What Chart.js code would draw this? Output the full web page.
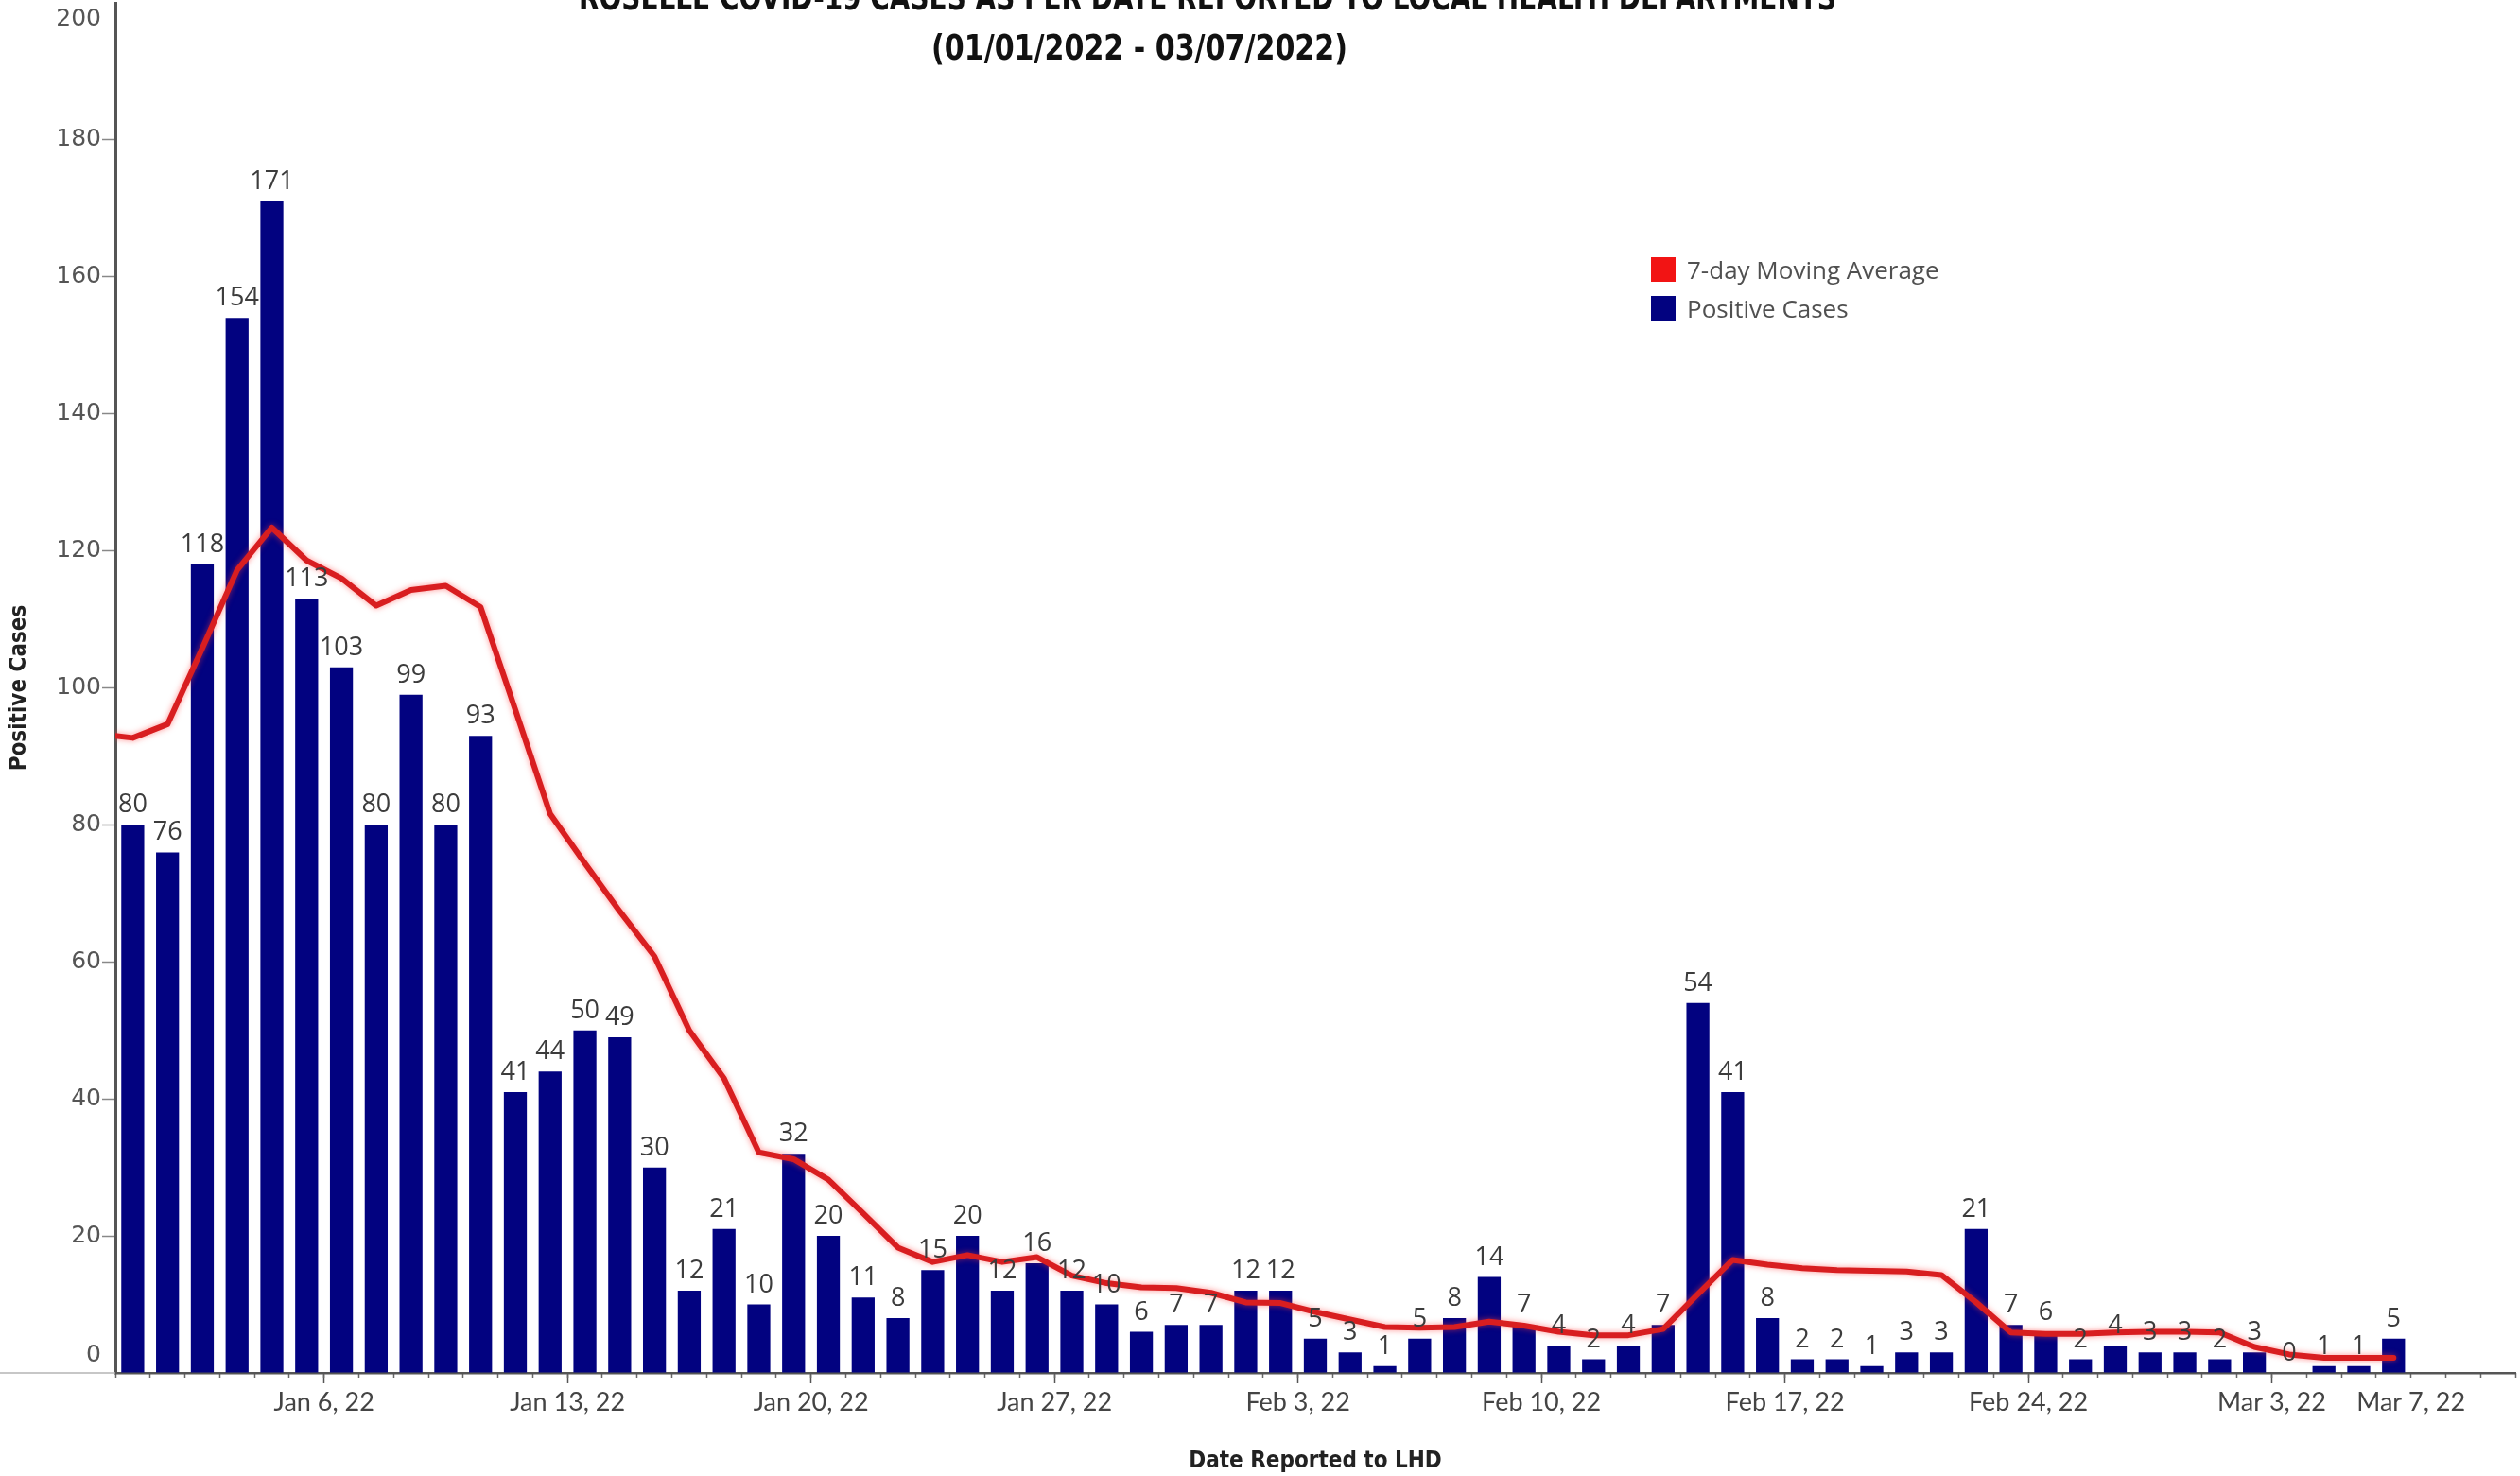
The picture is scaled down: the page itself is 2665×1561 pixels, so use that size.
<!DOCTYPE html>
<html>
<head>
<meta charset="utf-8">
<title>Roselle COVID-19 cases</title>
<script src="https://cdn.jsdelivr.net/npm/chart.js@4.4.1/dist/chart.umd.min.js"></script>
<style>
  html, body { margin: 0; padding: 0; background: #fff; }
  #wrap { position: relative; width: 2665px; height: 1561px; overflow: hidden; }
  #legend { position: absolute; left: 1746px; top: 264px; font-family: 'Open Sans', sans-serif; font-size: 26px; color: #505050; }
  .legend-item { display: flex; align-items: center; height: 41px; }
  .legend-box { width: 26px; height: 26px; margin-right: 12px; }
</style>
</head>
<body>
<div id="wrap">
  <canvas id="chart" width="2665" height="1561"></canvas>
  <div id="legend"></div>
</div>
<script>
// Días del eje (incluye 3 días vacíos al final, como en el original)
const days = [
  'Jan 1','Jan 2','Jan 3','Jan 4','Jan 5','Jan 6','Jan 7','Jan 8','Jan 9','Jan 10',
  'Jan 11','Jan 12','Jan 13','Jan 14','Jan 15','Jan 16','Jan 17','Jan 18','Jan 19','Jan 20',
  'Jan 21','Jan 22','Jan 23','Jan 24','Jan 25','Jan 26','Jan 27','Jan 28','Jan 29','Jan 30',
  'Jan 31','Feb 1','Feb 2','Feb 3','Feb 4','Feb 5','Feb 6','Feb 7','Feb 8','Feb 9',
  'Feb 10','Feb 11','Feb 12','Feb 13','Feb 14','Feb 15','Feb 16','Feb 17','Feb 18','Feb 19',
  'Feb 20','Feb 21','Feb 22','Feb 23','Feb 24','Feb 25','Feb 26','Feb 27','Feb 28','Mar 1',
  'Mar 2','Mar 3','Mar 4','Mar 5','Mar 6','Mar 7','Mar 8','Mar 9','Mar 10'
];

// Casos positivos por día (Jan 1 - Mar 7)
const cases = [
  80, 76, 118, 154, 171, 113, 103, 80, 99, 80, 93,
  41, 44, 50, 49, 30, 12, 21, 10, 32, 20,
  11, 8, 15, 20, 12, 16, 12, 10, 6, 7,
  7, 12, 12, 5, 3, 1, 5, 8, 14, 7,
  4, 2, 4, 7, 54, 41, 8, 2, 2, 1,
  3, 3, 21, 7, 6, 2, 4, 3,
  3, 2, 3, 0, 1, 1, 5
];

// Promedio móvil de 7 días; el primer valor es Dec 31
const movingAvg = [
  93.3,
  92.7, 94.7, 105.8, 117.2, 123.4, 118.6, 116.0, 112.0, 114.3, 114.9, 111.8,
  96.8, 81.6, 74.4, 67.4, 60.8, 50.0, 43.0, 32.2, 31.2, 28.2,
  23.3, 18.3, 16.2, 17.2, 16.2, 16.9, 14.2, 13.1, 12.5, 12.4,
  11.7, 10.3, 10.2, 8.9, 7.8, 6.7, 6.6, 6.7, 7.5, 6.9,
  6.0, 5.5, 5.5, 6.4, 11.5, 16.5, 15.8, 15.3, 15.0, 14.9,
  14.8, 14.3, 10.3, 5.9, 5.7, 5.7, 5.9, 6.0,
  6.0, 5.9, 3.8, 2.7, 2.2, 2.2, 2.2
];

// Etiquetas del eje X y el día tras el cual van
const tickDays = ['Jan 6', 'Jan 13', 'Jan 20', 'Jan 27', 'Feb 3', 'Feb 10', 'Feb 17', 'Feb 24', 'Mar 3', 'Mar 7'];
const tickLabels = ['Jan 6, 22', 'Jan 13, 22', 'Jan 20, 22', 'Jan 27, 22', 'Feb 3, 22', 'Feb 10, 22', 'Feb 17, 22', 'Feb 24, 22', 'Mar 3, 22', 'Mar 7, 22'];

const titleLines = [
  'ROSELLE COVID-19 CASES AS PER DATE REPORTED TO LOCAL HEALTH DEPARTMENTS',
  '(01/01/2022 - 03/07/2022)'
];

const NARROW = "'Liberation Sans Narrow', 'DejaVu Sans Condensed', 'Open Sans', sans-serif";
const Y_FONT = "25px 'DejaVu Sans', sans-serif";
const xMax = days.length - 0.5;

// Título (recortado arriba como en la imagen)
const titlePlugin = {
  id: 'titlePlugin',
  afterDraw(chart) {
    const ctx = chart.ctx;
    const specs = [
      { cx: 1277, base: 10, width: 1330 },
      { cx: 1205, base: 63, width: 440 }
    ];
    ctx.save();
    ctx.fillStyle = '#111';
    ctx.font = `bold 38px ${NARROW}`;
    ctx.textAlign = 'center';
    ctx.textBaseline = 'alphabetic';
    titleLines.forEach((t, i) => {
      const s = specs[i];
      const w = ctx.measureText(t).width;
      ctx.save();
      ctx.translate(s.cx, s.base);
      ctx.scale(s.width / w, 1);
      ctx.fillText(t, 0, 0);
      ctx.restore();
    });
    ctx.restore();
  }
};

// Valores encima de cada barra
const valueLabels = {
  id: 'valueLabels',
  afterDatasetsDraw(chart) {
    const ctx = chart.ctx;
    const meta = chart.getDatasetMeta(1);
    ctx.save();
    ctx.font = "27px 'Open Sans', sans-serif";
    ctx.fillStyle = '#3c3c3c';
    ctx.textAlign = 'center';
    ctx.textBaseline = 'alphabetic';
    meta.data.forEach((bar, i) => {
      const v = cases[i];
      if (v === null || v === undefined) return;
      ctx.fillText(String(v), bar.x, bar.y - 13);
    });
    ctx.restore();
  }
};

// Brillo suave de la línea roja
const lineGlow = {
  id: 'lineGlow',
  beforeDatasetDraw(chart, args) {
    if (args.index !== 0) return;
    const ctx = chart.ctx;
    ctx.save();
    ctx.shadowColor = 'rgba(255, 60, 60, 0.55)';
    ctx.shadowBlur = 6;
  },
  afterDatasetDraw(chart, args) {
    if (args.index !== 0) return;
    chart.ctx.restore();
  }
};

// Detalles del eje: etiquetas 0 y 200 desplazadas hacia dentro y línea base hacia la izquierda
const axisExtras = {
  id: 'axisExtras',
  afterDraw(chart) {
    const ctx = chart.ctx;
    const y = chart.scales.y;
    const base = y.getPixelForValue(0);
    ctx.save();
    ctx.strokeStyle = '#b5b5b5';
    ctx.lineWidth = 1.5;
    ctx.beginPath();
    ctx.moveTo(0, base);
    ctx.lineTo(chart.chartArea.left, base);
    ctx.stroke();

    ctx.font = Y_FONT;
    ctx.fillStyle = '#555';
    ctx.textAlign = 'right';
    ctx.textBaseline = 'middle';
    ctx.fillText(String(y.max), y.right - 15, y.getPixelForValue(y.max) + 17);
    ctx.fillText(String(y.min), y.right - 15, base - 19);
    ctx.restore();
  }
};

const ctx = document.getElementById('chart').getContext('2d');
const chart = new Chart(ctx, {
  type: 'bar',
  data: {
    datasets: [
      {
        type: 'line',
        label: '7-day Moving Average',
        data: movingAvg.map((v, i) => ({ x: i - 1, y: v })),
        borderColor: '#d81e20',
        backgroundColor: '#f21414',
        borderWidth: 6,
        pointRadius: 0,
        tension: 0,
        borderJoinStyle: 'round',
        borderCapStyle: 'round',
        clip: 0,
        order: 0,
        xAxisID: 'x'
      },
      {
        type: 'bar',
        label: 'Positive Cases',
        data: cases.map((v, i) => ({ x: i, y: v })),
        backgroundColor: '#020280',
        borderWidth: 0,
        categoryPercentage: 1,
        barPercentage: 0.66,
        order: 1,
        xAxisID: 'x'
      }
    ]
  },
  options: {
    responsive: false,
    animation: false,
    devicePixelRatio: 1,
    layout: { padding: { top: 3, right: 5, left: 0, bottom: 0 } },
    plugins: {
      legend: { display: false },
      tooltip: { enabled: false },
      title: { display: false }
    },
    scales: {
      x: {
        type: 'linear',
        position: 'bottom',
        min: -0.5,
        max: xMax,
        offset: false,
        afterBuildTicks: (axis) => {
          axis.ticks = tickDays.map(d => ({ value: days.indexOf(d) + 0.5 }));
        },
        afterFit: (scale) => {
          scale.height = 109;
          scale.paddingLeft = 0;
          scale.paddingRight = 0;
        },
        border: { display: true, color: '#555', width: 2.5 },
        grid: {
          offset: false,
          drawOnChartArea: false,
          drawTicks: true,
          tickLength: 11,
          tickWidth: 1.5,
          tickColor: (c) => (c.index === tickDays.length - 1 ? 'rgba(0,0,0,0)' : '#555')
        },
        ticks: {
          autoSkip: false,
          maxRotation: 0,
          padding: 4,
          color: '#444',
          font: { family: "Lato, 'Open Sans', sans-serif", size: 27 },
          callback: (value, index) => tickLabels[index]
        },
        title: {
          display: true,
          text: 'Date Reported to LHD',
          color: '#222',
          font: { family: NARROW, size: 24, weight: 'bold' },
          padding: { top: 0, bottom: 1 }
        }
      },
      xMinor: {
        type: 'linear',
        position: { y: 0 },
        min: -0.5,
        max: xMax,
        offset: false,
        afterBuildTicks: (axis) => {
          axis.ticks = days.map((d, i) => ({ value: i - 0.5 })).concat([{ value: xMax }]);
        },
        border: { display: false },
        grid: {
          offset: false,
          drawOnChartArea: false,
          drawTicks: true,
          tickLength: 5,
          tickWidth: 1.5,
          tickColor: '#666'
        },
        ticks: { display: false }
      },
      y: {
        type: 'linear',
        position: 'left',
        min: 0,
        max: 200,
        afterFit: (scale) => {
          scale.width = 122;
          scale.paddingTop = 0;
          scale.paddingBottom = 0;
        },
        border: { display: true, color: '#555', width: 3 },
        grid: {
          drawOnChartArea: false,
          drawTicks: true,
          tickLength: 14,
          tickWidth: 1.5,
          tickColor: (c) => (c.tick && (c.tick.value === 0 || c.tick.value === 200) ? 'rgba(0,0,0,0)' : '#888')
        },
        ticks: {
          stepSize: 20,
          padding: 1,
          color: '#555',
          font: { family: "'DejaVu Sans', sans-serif", size: 25 },
          callback: (v) => (v === 200 || v === 0 ? '' : v)
        },
        title: {
          display: true,
          text: 'Positive Cases',
          color: '#222',
          font: { family: NARROW, size: 24, weight: 'bold' },
          padding: { top: 6, bottom: 0 }
        }
      }
    }
  },
  plugins: [titlePlugin, valueLabels, lineGlow, axisExtras]
});

// Leyenda HTML a partir de los datasets
const legendEl = document.getElementById('legend');
legendEl.innerHTML = chart.data.datasets.map(ds => (
  `<div class="legend-item"><span class="legend-box" style="background:${ds.backgroundColor}"></span>${ds.label}</div>`
)).join('');
</script>
</body>
</html>
